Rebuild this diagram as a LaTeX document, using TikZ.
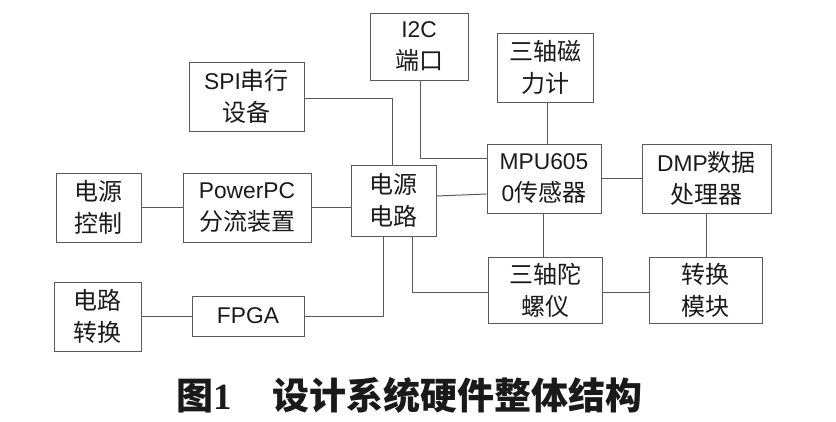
\documentclass[tikz,border=0pt]{standalone}
\usepackage{fontspec}
\setmainfont{Liberation Sans}[Scale=0.95]
\newfontfamily\cjk{Noto Sans CJK SC}
\newfontfamily\serifnum{Liberation Serif}
\definecolor{linegray}{HTML}{5A5A5A}
\definecolor{textblack}{HTML}{1A1A1A}
\tikzset{
  blk/.style={draw=linegray, line width=1pt, align=center, inner sep=0pt,
    text=textblack, font=\fontsize{24}{32}\selectfont},
  wire/.style={draw=linegray, line width=1pt},
}
\begin{document}
\begin{tikzpicture}[x=1pt,y=-1pt]
\useasboundingbox (0,0) rectangle (836,421);
\node[blk, minimum width=98pt, minimum height=67pt] (i2c) at (419,46.5) {I2C\\{\cjk 端口}};
\node[blk, minimum width=115pt, minimum height=69pt] (spi) at (246.5,96.5) {SPI{\cjk 串行}\\{\cjk 设备}};
\node[blk, minimum width=96pt, minimum height=69pt] (mag) at (545,67.5) {{\cjk 三轴磁}\\{\cjk 力计}};
\node[blk, minimum width=85pt, minimum height=69pt] (pctl) at (98.5,207.5) {{\cjk 电源}\\{\cjk 控制}};
\node[blk, minimum width=128pt, minimum height=69pt] (ppc) at (247,207.5) {PowerPC\\{\cjk 分流装置}};
\node[blk, minimum width=85pt, minimum height=71pt] (pwr) at (393.5,200.5) {{\cjk 电源}\\{\cjk 电路}};
\node[blk, minimum width=114pt, minimum height=69pt] (mpu) at (544,178.5) {MPU605\\0{\cjk 传感器}};
\node[blk, minimum width=129pt, minimum height=69pt] (dmp) at (706.5,178.5) {DMP{\cjk 数据}\\{\cjk 处理器}};
\node[blk, minimum width=87pt, minimum height=69pt] (conv) at (97.5,316.5) {{\cjk 电路}\\{\cjk 转换}};
\node[blk, minimum width=112pt, minimum height=40pt] (fpga) at (248,316) {FPGA};
\node[blk, minimum width=114pt, minimum height=66pt] (gyro) at (545,290) {{\cjk 三轴陀}\\{\cjk 螺仪}};
\node[blk, minimum width=113pt, minimum height=66pt] (mod) at (705.5,290) {{\cjk 转换}\\{\cjk 模块}};

\draw[wire] ([yshift=-1.5pt]spi.east) -| ([xshift=-1.5pt]pwr.north);
\draw[wire] ([xshift=1pt]i2c.south) |- ([yshift=20.5pt]mpu.west);
\draw[wire] ([xshift=2pt]mag.south) -- ([xshift=3pt]mpu.north);
\draw[wire] ([yshift=4.5pt]pwr.east) -- ([yshift=-15.5pt]mpu.west);
\draw[wire] (mpu.east) -- (dmp.west);
\draw[wire] ([xshift=-1pt]mpu.south) -- ([xshift=-2pt]gyro.north);
\draw[wire] (dmp.south) -- ([xshift=1pt]mod.north);
\draw[wire] ([yshift=-2pt]gyro.east) -- ([yshift=-2pt]mod.west);
\draw[wire] ([xshift=18.5pt]pwr.south) |- ([yshift=-2pt]gyro.west);
\draw[wire] (pctl.east) -- (ppc.west);
\draw[wire] (ppc.east) -- (ppc.east -| pwr.west);
\draw[wire] (conv.east) -- (conv.east -| fpga.west);
\draw[wire] (fpga.east) -| ([xshift=-10.5pt]pwr.south);

\node[anchor=west, inner sep=0pt, text=textblack, font=\fontsize{37}{40}\selectfont] (cap) at (176,395)
  {{\cjk\bfseries 图}{\serifnum\bfseries 1}\hspace{1.15em}{\cjk\bfseries 设计系统硬件整体结构}};
\end{tikzpicture}
\end{document}
